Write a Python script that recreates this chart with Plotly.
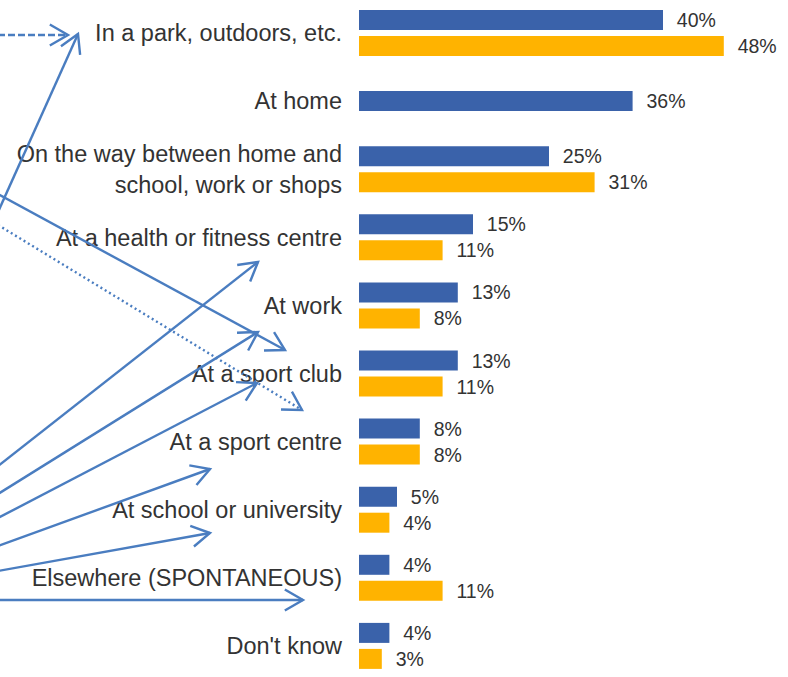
import math
import plotly.graph_objects as go

# ---------------- data ----------------
categories = [
    "In a park, outdoors, etc.",
    "At home",
    "On the way between home and<br>school, work or shops",
    "At a health or fitness centre",
    "At work",
    "At a sport club",
    "At a sport centre",
    "At school or university",
    "Elsewhere (SPONTANEOUS)",
    "Don't know",
]
series_blue = [40, 36, 25, 15, 13, 13, 8, 5, 4, 4]
series_orange = [48, None, 31, 11, 8, 11, 8, 4, 11, 3]

# ---------------- layout constants ----------------
W, H = 788, 677
PL = 359            # plot left edge (px)
PW = W - PL         # plot width
PX_PER_PCT = 7.6
PITCH = 68.1        # px per category
C0 = 33.0           # px center of first category
BAR_H = 20 / PITCH

BLUE = "#3A62AA"
ORANGE = "#FFB300"
ARROW = "#4A7DC0"
TXT = "#333333"
FONT = "Liberation Sans, Arial, sans-serif"

blue_offset = [(-10 / PITCH) if o is None else (-23 / PITCH) for o in series_orange]
orange_offset = [3 / PITCH] * len(categories)

fig = go.Figure()
fig.add_trace(go.Bar(
    y=categories, x=series_blue, orientation="h",
    marker=dict(color=BLUE, line=dict(width=0)),
    width=[BAR_H] * len(categories), offset=blue_offset,
    texttemplate="\u00a0\u00a0%{x}%", textposition="outside",
    textfont=dict(family=FONT, size=19.5, color=TXT),
    cliponaxis=False, constraintext="none", hoverinfo="skip",
))
fig.add_trace(go.Bar(
    y=categories, x=series_orange, orientation="h",
    marker=dict(color=ORANGE, line=dict(width=0)),
    width=[BAR_H] * len(categories), offset=orange_offset,
    texttemplate="\u00a0\u00a0%{x}%", textposition="outside",
    textfont=dict(family=FONT, size=19.5, color=TXT),
    cliponaxis=False, constraintext="none", hoverinfo="skip",
))

# ---------------- decorative arrows (pixel space -> paper) ----------------
def px(xp):
    return (xp - PL) / PW

def py(yp):
    return 1 - yp / H

arrows = [
    ((-2, 35), (68, 35), "7px,3px"),
    ((-2, 212), (78, 34), "solid"),
    ((-2, 194), (285, 350), "solid"),
    ((-2, 225), (302, 410), "2px,3px"),
    ((-2, 466), (258, 262), "solid"),
    ((-2, 494), (258, 332), "solid"),
    ((-2, 518), (257, 383), "solid"),
    ((-2, 546), (210, 469), "solid"),
    ((-2, 571), (210, 533), "solid"),
    ((-2, 600), (303, 600), "solid"),
]

shapes = []
L_HEAD, ANG = 21, math.radians(30)
for (x0, y0), (x1, y1), dash in arrows:
    shapes.append(dict(
        type="line", xref="paper", yref="paper",
        x0=px(x0), y0=py(y0), x1=px(x1), y1=py(y1),
        line=dict(color=ARROW, width=2.4, dash=dash), layer="above",
    ))
    dx, dy = x1 - x0, y1 - y0
    n = math.hypot(dx, dy)
    ux, uy = dx / n, dy / n
    pts = []
    for s in (1, -1):
        c, sn = math.cos(s * ANG), math.sin(s * ANG)
        rx, ry = ux * c - uy * sn, ux * sn + uy * c
        pts.append((x1 - L_HEAD * rx, y1 - L_HEAD * ry))
    path = "M{:.5f},{:.5f} L{:.5f},{:.5f} L{:.5f},{:.5f}".format(
        px(pts[0][0]), py(pts[0][1]), px(x1), py(y1), px(pts[1][0]), py(pts[1][1]))
    shapes.append(dict(
        type="path", xref="paper", yref="paper", path=path,
        line=dict(color=ARROW, width=2.4), layer="above",
    ))

fig.update_layout(
    template="none",
    width=W, height=H,
    margin=dict(l=PL, r=0, t=0, b=0, pad=0),
    paper_bgcolor="white", plot_bgcolor="white",
    barmode="overlay",
    showlegend=False,
    shapes=shapes,
    xaxis=dict(range=[0, PW / PX_PER_PCT], visible=False, automargin=False),
    yaxis=dict(
        type="category",
        range=[(H - C0) / PITCH, -C0 / PITCH],
        showgrid=False, zeroline=False, showline=False, ticks="",
        automargin=False,
        tickfont=dict(family=FONT, size=23.5, color=TXT),
        ticklabelstandoff=16,
    ),
)

fig.write_html(
    "out.html",
    config={"displayModeBar": False},
    post_script="document.body.style.margin='0';document.body.style.overflow='hidden';",
)
